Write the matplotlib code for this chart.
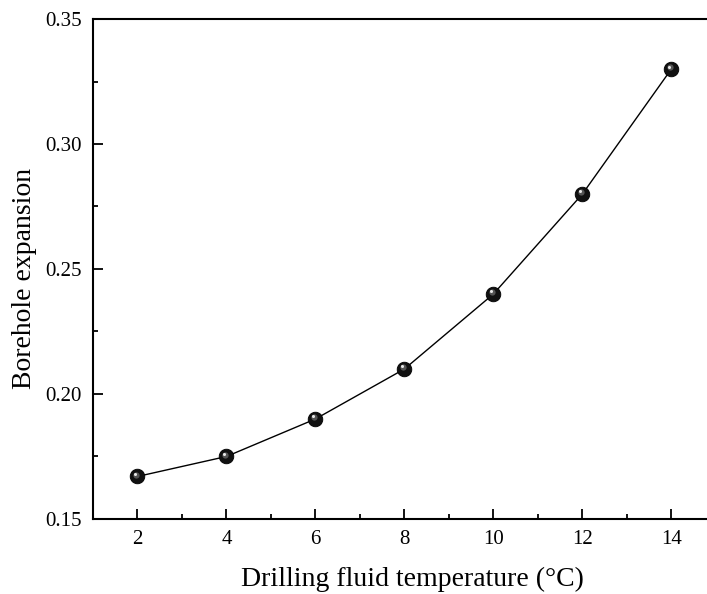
import numpy as np
import matplotlib
matplotlib.use("Agg")
import matplotlib.pyplot as plt
from matplotlib import rcParams
from matplotlib.ticker import MultipleLocator
import matplotlib.transforms as mtransforms

# Data
temperature = [2, 4, 6, 8, 10, 12, 14]
expansion = [0.167, 0.175, 0.190, 0.210, 0.240, 0.280, 0.330]

rcParams['font.family'] = ['Liberation Serif', 'DejaVu Serif']
rcParams['mathtext.fontset'] = 'stix'

fig = plt.figure(figsize=(7.07, 5.94), dpi=100)
ax = fig.add_axes([0.1315, 0.1263, 0.8685, 0.8417])

# connecting line
ax.plot(temperature, expansion, color='k', linewidth=1.0, zorder=2)
# sphere-like markers: dark ball + small highlight
ax.plot(temperature, expansion, linestyle='none', marker='o', markersize=10.5,
        markerfacecolor='#111111', markeredgecolor='#000000', markeredgewidth=0.6, zorder=3)
ax.plot(temperature, expansion, linestyle='none', marker='o', markersize=4.5,
        markerfacecolor='#555555', markeredgecolor='none', zorder=4,
        transform=mtransforms.offset_copy(ax.transData, fig=fig, x=-1.2, y=1.2, units='points'))
ax.plot(temperature, expansion, linestyle='none', marker='o', markersize=2.2,
        markerfacecolor='#e8e8e8', markeredgecolor='none', zorder=5,
        transform=mtransforms.offset_copy(ax.transData, fig=fig, x=-1.8, y=1.8, units='points'))

ax.set_xlim(1, 14.8)
ax.set_ylim(0.15, 0.35)
ax.xaxis.set_major_locator(MultipleLocator(2))
ax.xaxis.set_minor_locator(MultipleLocator(1))
ax.yaxis.set_major_locator(MultipleLocator(0.05))
ax.yaxis.set_minor_locator(MultipleLocator(0.025))
ax.yaxis.set_major_formatter(plt.FormatStrFormatter('%.2f'))

ax.tick_params(axis='both', which='major', direction='in', length=7, width=1.3,
               labelsize=15, pad=8, top=False, right=False)
ax.tick_params(axis='both', which='minor', direction='in', length=3.5, width=1.3,
               top=False, right=False)

for side in ['left', 'bottom', 'top']:
    ax.spines[side].set_linewidth(1.5)
ax.spines['right'].set_visible(False)

ax.set_xlabel('Drilling fluid temperature (°C)', fontsize=20, labelpad=13)
ax.set_ylabel('Borehole expansion', fontsize=20, labelpad=6)
# original canvas was cropped on the right, so labels sit off-centre
ax.xaxis.label.set_x(0.521)
ax.yaxis.label.set_y(0.482)

fig.savefig('out.png', dpi=100)
